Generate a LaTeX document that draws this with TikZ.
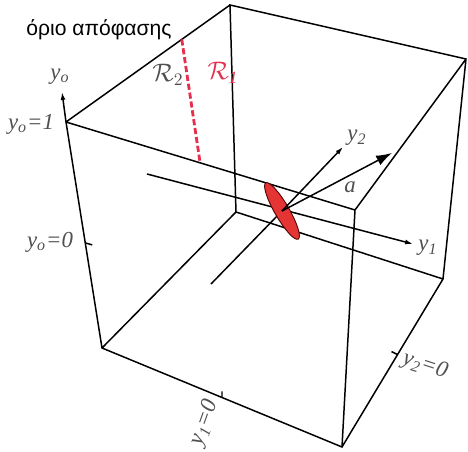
\documentclass[tikz,border=0pt]{standalone}
\usepackage{fontspec}
\setmainfont{Liberation Serif}
\newfontfamily\grfont{Liberation Sans}
\usepackage{tikz}
\usetikzlibrary{arrows.meta,positioning,shapes.geometric,calc}
\definecolor{lab}{RGB}{80,80,80}
\definecolor{bound}{RGB}{228,48,78}
\definecolor{disc}{RGB}{228,52,52}

\begin{document}
\begin{tikzpicture}[x=0.02cm,y=-0.02cm,>=Latex,
ed/.style={line width=.85pt},
ax/.style={line width=.85pt,-{Latex[length=4.5pt,width=2.8pt]}},
lb/.style={text=lab,font=\fontsize{13}{15}\selectfont\itshape,inner sep=0pt},
rl/.style={font=\fontsize{14}{16}\selectfont,inner sep=0pt}]
\useasboundingbox (0,0) rectangle (468,452);
% cube corners
\coordinate (A) at (66,122); \coordinate (B) at (355,210);
\coordinate (C) at (342,447); \coordinate (D) at (102,348);
\coordinate (E) at (230,5); \coordinate (F) at (466,59);
\coordinate (G) at (443,279); \coordinate (H) at (236,212);
\draw[ed] (A)--(B)--(C)--(D)--cycle (E)--(F)--(G)--(H)--cycle
  (A)--(E) (B)--(F) (C)--(G) (D)--(H);
% ticks
\coordinate (t0) at ($(A)!.535!(D)$); \coordinate (t1) at ($(D)!.5!(C)$);
\coordinate (t2) at ($(C)!.55!(G)$);
\draw[ed] (t0)--++(7,2) (t1)--++(0,-6) (t2)--++(-6,-3);
% axes
\coordinate (O) at (282,211);
\coordinate (y0e) at (62,92); \coordinate (y1s) at (147,174);
\coordinate (y1e) at (413,244); \coordinate (y2s) at (211,284);
\coordinate (y2e) at (343,147); \coordinate (ae) at (392,153);
\draw[ax] (A)--(y0e);
\draw[ax] (y1s)--(y1e);
\draw[ed] (y2s)--(O);
\node[ellipse,draw=black!70!red,line width=.5pt,fill=disc,minimum width=1.3cm,
  minimum height=.29cm,inner sep=0pt,rotate=-60] (disc) at (O) {};
\draw[ax] (O)--(y2e);
\draw[line width=.85pt,-{Latex[length=9pt,width=6pt]}] (O)--(ae);
% decision boundary
\coordinate (b1) at ($(A)!.706!(E)$); \coordinate (b2) at ($(A)!.464!(B)$);
\draw[bound,line width=1.6pt,dash pattern=on 3.5pt off 1.6pt] (b1)--(b2);
% labels
\node[font=\grfont\fontsize{12}{14}\selectfont,inner sep=0pt] (title) at (99,30) {όριο απόφασης};
\node[rl,text=lab] (r2) at (168,75) {$\mathcal{R}_2$};
\node[rl,text=bound] (r1) at (223,73) {$\mathcal{R}_{\mathit{1}}$};
\node[lb] (ly0) at (60,77) {y\textsubscript{o}};
\node[lb] (ly01) at (31,124) {y\textsubscript{o}=1};
\node[lb] (ly00) at (50,242) {y\textsubscript{o}=0};
\node[lb] (ly2) at (357,138) {y\textsubscript{2}};
\node[lb] (la) at (350,187) {a};
\node[lb] (ly1) at (428,248) {y\textsubscript{1}};
\node[lb,rotate=-18] (ly20) at (425,366) {y\textsubscript{2}=0};
\node[lb,rotate=70] (ly10) at (205,423) {y\textsubscript{1}=0};
\end{tikzpicture}
\end{document}
